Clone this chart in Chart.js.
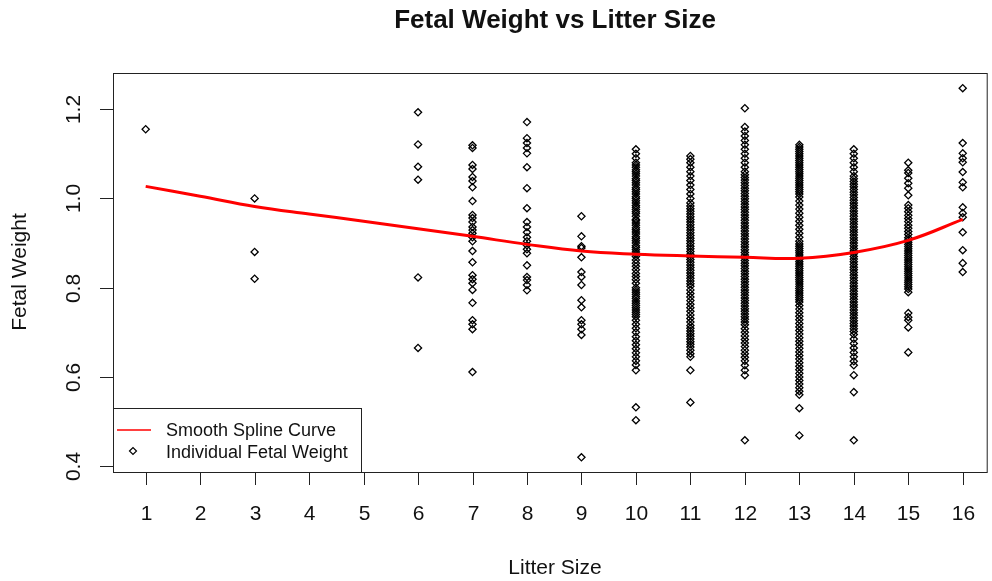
<!DOCTYPE html>
<html>
<head>
<meta charset="utf-8">
<script src="https://cdn.jsdelivr.net/npm/chart.js@4.4.0/dist/chart.umd.min.js"></script>
<style>
  html, body { margin: 0; padding: 0; background: #fff; }
  #wrap { width: 992px; height: 581px; }
</style>
</head>
<body>
<div id="wrap"><canvas id="myChart" width="992" height="581"></canvas></div>
<script>
// fetal weights, one array per litter size
var litter1 = [1.155];
var litter3 = [1.0, 0.88, 0.82];
var litter6 = [1.193, 1.121, 1.071, 1.042, 0.823, 0.665];
var litter7 = [1.119, 1.113, 1.075, 1.066, 1.048, 1.039, 1.025, 0.994, 0.963, 0.956, 0.947, 0.936, 0.929,
  0.922, 0.913, 0.904, 0.882, 0.857, 0.828, 0.819, 0.81, 0.795, 0.766, 0.727, 0.718, 0.707, 0.611];
var litter8 = [1.171, 1.135, 1.124, 1.113, 1.101, 1.07, 1.023, 0.978, 0.947, 0.936, 0.924, 0.913, 0.904,
  0.895, 0.886, 0.877, 0.85, 0.824, 0.817, 0.806, 0.794];
var litter9 = [0.96, 0.915, 0.893, 0.889, 0.868, 0.835, 0.824, 0.806, 0.772, 0.756, 0.727, 0.718, 0.707,
  0.694, 0.42];
var litter10 = [1.11, 1.1, 1.09, 1.08, 1.075, 1.07, 1.064, 1.06, 1.055, 1.05, 1.044, 1.04, 1.035, 1.03,
  1.024, 1.02, 1.015, 1.01, 1.004, 1.0, 0.995, 0.99, 0.984, 0.98, 0.975, 0.97, 0.966, 0.96, 0.953, 0.95,
  0.945, 0.94, 0.934, 0.93, 0.925, 0.92, 0.914, 0.91, 0.905, 0.9, 0.894, 0.89, 0.885, 0.88, 0.875, 0.87,
  0.862, 0.855, 0.848, 0.84, 0.832, 0.825, 0.818, 0.81, 0.8, 0.795, 0.79, 0.785, 0.78, 0.776, 0.77, 0.765,
  0.76, 0.755, 0.75, 0.745, 0.74, 0.735, 0.727, 0.718, 0.709, 0.7, 0.69, 0.681, 0.672, 0.663, 0.654, 0.645,
  0.636, 0.627, 0.615, 0.532, 0.503];
var litter11 = [1.095, 1.088, 1.08, 1.07, 1.06, 1.05, 1.04, 1.03, 1.02, 1.01, 1.0, 0.99, 0.983, 0.977,
  0.971, 0.965, 0.959, 0.953, 0.947, 0.941, 0.935, 0.929, 0.923, 0.917, 0.911, 0.905, 0.899, 0.893, 0.887,
  0.881, 0.875, 0.869, 0.863, 0.857, 0.851, 0.845, 0.839, 0.833, 0.827, 0.821, 0.815, 0.809, 0.803, 0.795,
  0.787, 0.779, 0.771, 0.763, 0.755, 0.747, 0.739, 0.731, 0.723, 0.715, 0.709, 0.703, 0.697, 0.691, 0.685,
  0.679, 0.673, 0.667, 0.66, 0.652, 0.645, 0.615, 0.543];
var litter12 = [1.202, 1.16, 1.15, 1.14, 1.13, 1.12, 1.11, 1.1, 1.09, 1.08, 1.07, 1.06, 1.053, 1.047,
  1.041, 1.035, 1.029, 1.023, 1.017, 1.011, 1.005, 0.999, 0.993, 0.987, 0.981, 0.975, 0.969, 0.963, 0.957,
  0.951, 0.945, 0.939, 0.933, 0.927, 0.921, 0.915, 0.909, 0.903, 0.897, 0.891, 0.885, 0.879, 0.873, 0.867,
  0.861, 0.855, 0.849, 0.843, 0.837, 0.831, 0.825, 0.819, 0.813, 0.807, 0.801, 0.795, 0.789, 0.783, 0.777,
  0.771, 0.765, 0.759, 0.753, 0.747, 0.741, 0.735, 0.729, 0.723, 0.717, 0.708, 0.7, 0.692, 0.684, 0.676,
  0.668, 0.66, 0.652, 0.644, 0.636, 0.626, 0.615, 0.604, 0.458];
var litter13 = [1.12, 1.115, 1.11, 1.105, 1.1, 1.095, 1.09, 1.085, 1.08, 1.075, 1.07, 1.065, 1.06, 1.055,
  1.05, 1.045, 1.04, 1.035, 1.03, 1.025, 1.02, 1.015, 1.01, 1.003, 0.994, 0.985, 0.976, 0.967, 0.958, 0.949,
  0.94, 0.931, 0.922, 0.913, 0.904, 0.898, 0.893, 0.888, 0.883, 0.878, 0.873, 0.868, 0.863, 0.858, 0.853,
  0.848, 0.843, 0.838, 0.833, 0.828, 0.823, 0.818, 0.813, 0.808, 0.803, 0.798, 0.793, 0.788, 0.783, 0.778,
  0.773, 0.768, 0.76, 0.752, 0.744, 0.736, 0.728, 0.72, 0.712, 0.704, 0.696, 0.688, 0.68, 0.672, 0.664,
  0.656, 0.648, 0.64, 0.632, 0.624, 0.616, 0.608, 0.6, 0.592, 0.584, 0.576, 0.568, 0.56, 0.53, 0.469];
var litter14 = [1.11, 1.1, 1.09, 1.08, 1.07, 1.06, 1.05, 1.044, 1.038, 1.032, 1.026, 1.02, 1.014, 1.008,
  1.002, 0.996, 0.99, 0.984, 0.978, 0.972, 0.966, 0.96, 0.954, 0.948, 0.942, 0.936, 0.93, 0.924, 0.918,
  0.912, 0.906, 0.9, 0.894, 0.888, 0.882, 0.876, 0.87, 0.864, 0.858, 0.852, 0.846, 0.84, 0.834, 0.828,
  0.822, 0.816, 0.81, 0.804, 0.798, 0.792, 0.786, 0.78, 0.774, 0.768, 0.762, 0.756, 0.75, 0.744, 0.738,
  0.732, 0.726, 0.72, 0.714, 0.708, 0.702, 0.695, 0.685, 0.675, 0.665, 0.655, 0.645, 0.635, 0.626, 0.604,
  0.566, 0.458];
var litter15 = [1.08, 1.063, 1.057, 1.045, 1.034, 1.023, 1.007, 0.985, 0.978, 0.97, 0.962, 0.955, 0.948,
  0.94, 0.933, 0.926, 0.919, 0.912, 0.907, 0.902, 0.897, 0.892, 0.887, 0.882, 0.877, 0.872, 0.867, 0.862,
  0.857, 0.852, 0.847, 0.842, 0.837, 0.832, 0.827, 0.822, 0.817, 0.812, 0.807, 0.802, 0.797, 0.79, 0.743,
  0.734, 0.727, 0.711, 0.655];
var litter16 = [1.247, 1.124, 1.101, 1.09, 1.081, 1.059, 1.036, 1.025, 0.98, 0.967, 0.958, 0.924, 0.884,
  0.855, 0.835];

var litterSizes = [1, 3, 6, 7, 8, 9, 10, 11, 12, 13, 14, 15, 16];
var weightGroups = [litter1, litter3, litter6, litter7, litter8, litter9, litter10, litter11, litter12,
  litter13, litter14, litter15, litter16];

// smooth spline fit at each litter size
var splineX = [1, 2, 3, 4, 5, 6, 7, 8, 9, 10, 11, 12, 13, 14, 15, 16];
var splineY = [1.027, 1.005, 0.982, 0.965, 0.949, 0.932, 0.915, 0.897, 0.882, 0.875, 0.871, 0.868,
  0.866, 0.879, 0.906, 0.953];

// axis ticks
var xTicks = [1, 2, 3, 4, 5, 6, 7, 8, 9, 10, 11, 12, 13, 14, 15, 16];
var yTicks = [0.4, 0.6, 0.8, 1.0, 1.2];
var yTickLabels = ["0.4", "0.6", "0.8", "1.0", "1.2"];

var points = [];
litterSizes.forEach(function (size, i) {
  weightGroups[i].forEach(function (w) {
    points.push({ x: size, y: w });
  });
});

var spline = splineX.map(function (x, i) {
  return { x: x, y: splineY[i] };
});

var FONT = "'Liberation Sans', Arial, sans-serif";

// draws the R-style box, ticks, titles and legend
var baseAxes = {
  id: "baseAxes",
  afterDraw: function (chart) {
    var ctx = chart.ctx;
    var area = chart.chartArea;
    var xs = chart.scales.x;
    var ys = chart.scales.y;
    ctx.save();
    ctx.strokeStyle = "#222";
    ctx.lineWidth = 1;
    ctx.strokeRect(area.left + 0.5, area.top + 0.5, area.right - area.left, area.bottom - area.top);

    ctx.fillStyle = "#111";
    ctx.font = "21px " + FONT;
    ctx.textAlign = "center";
    ctx.textBaseline = "middle";
    xTicks.forEach(function (t) {
      var px = Math.round(xs.getPixelForValue(t)) + 0.5;
      ctx.beginPath();
      ctx.moveTo(px, area.bottom);
      ctx.lineTo(px, area.bottom + 13);
      ctx.stroke();
      ctx.fillText(String(t), px, 514);
    });
    yTicks.forEach(function (t, i) {
      var py = Math.round(ys.getPixelForValue(t)) + 0.5;
      ctx.beginPath();
      ctx.moveTo(area.left - 13, py);
      ctx.lineTo(area.left, py);
      ctx.stroke();
      ctx.save();
      ctx.translate(74, py);
      ctx.rotate(-Math.PI / 2);
      ctx.fillText(yTickLabels[i], 0, 0);
      ctx.restore();
    });

    // titles
    ctx.font = "bold 26px " + FONT;
    ctx.fillText("Fetal Weight vs Litter Size", 555, 21);
    ctx.font = "21px " + FONT;
    ctx.fillText("Litter Size", 555, 568);
    ctx.save();
    ctx.translate(20, 272);
    ctx.rotate(-Math.PI / 2);
    ctx.fillText("Fetal Weight", 0, 0);
    ctx.restore();

    // legend
    ctx.fillStyle = "#fff";
    ctx.fillRect(area.left, 408, 248, area.bottom - 408);
    ctx.strokeStyle = "#222";
    ctx.strokeRect(area.left + 0.5, 408.5, 248, area.bottom - 408);
    ctx.strokeStyle = "#ff0000";
    ctx.lineWidth = 1.5;
    ctx.beginPath();
    ctx.moveTo(117, 430);
    ctx.lineTo(151, 430);
    ctx.stroke();
    ctx.strokeStyle = "#000";
    ctx.lineWidth = 1.2;
    ctx.beginPath();
    ctx.moveTo(129.5, 451);
    ctx.lineTo(133, 447.5);
    ctx.lineTo(136.5, 451);
    ctx.lineTo(133, 454.5);
    ctx.closePath();
    ctx.stroke();
    ctx.fillStyle = "#111";
    ctx.font = "18px " + FONT;
    ctx.textAlign = "left";
    ctx.fillText("Smooth Spline Curve", 166, 431);
    ctx.fillText("Individual Fetal Weight", 166, 453);
    ctx.restore();
  }
};

var myChart = document.getElementById("myChart").getContext("2d");
var chart = new Chart(myChart, {
  type: "scatter",
  data: {
    datasets: [
      {
        type: "line",
        label: "Smooth Spline Curve",
        data: spline,
        borderColor: "#ff0000",
        borderWidth: 3,
        pointRadius: 0,
        tension: 0.4,
        fill: false,
        order: 0
      },
      {
        label: "Individual Fetal Weight",
        data: points,
        pointStyle: "rectRot",
        pointRadius: 3.6,
        pointBorderWidth: 1.3,
        borderColor: "#000",
        backgroundColor: "rgba(0,0,0,0)",
        order: 1
      }
    ]
  },
  options: {
    responsive: false,
    animation: false,
    events: [],
    layout: { padding: { left: 113, top: 73, right: 0, bottom: 109 } },
    scales: {
      x: { type: "linear", min: 0.4, max: 16.44, display: false },
      y: { type: "linear", min: 0.387, max: 1.281, display: false }
    },
    plugins: {
      legend: { display: false },
      tooltip: { enabled: false }
    }
  },
  plugins: [baseAxes]
});
</script>
</body>
</html>
